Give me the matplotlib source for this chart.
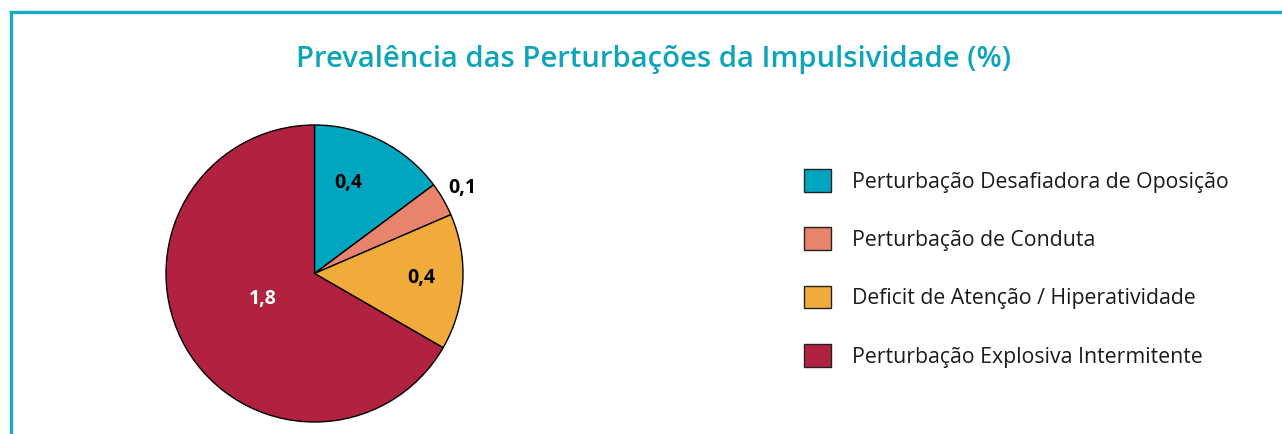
import numpy as np
import matplotlib
matplotlib.use('Agg')
import matplotlib.pyplot as plt
from matplotlib.patches import Patch
from matplotlib.lines import Line2D

categories = ['Perturbação Desafiadora de Oposição',
              'Perturbação de Conduta',
              'Deficit de Atenção / Hiperatividade',
              'Perturbação Explosiva Intermitente']
values = [0.4, 0.1, 0.4, 1.8]
valueLabels = ['0,4', '0,1', '0,4', '1,8']
title = 'Prevalência das Perturbações da Impulsividade (%)'

colors = ['#00a6bf', '#e8836c', '#f0ab3a', '#b0223f']
labelColors = ['black', 'black', 'black', 'white']
# radial position of each value label (fraction of radius), angle offset in degrees
labelRadius = [0.65, 1.15, 0.72, 0.39]
labelAngleShift = [6, 0, 1, -4]

W, H = 1282, 434
plt.rcParams['font.family'] = ['Open Sans', 'DejaVu Sans']
fig = plt.figure(figsize=(W / 100, H / 100), dpi=100)

# frame (left and top only)
frameColor = '#14abc2'
fig.add_artist(Line2D([10.5 / W, 10.5 / W], [0, 1 - 11.5 / H], color=frameColor, lw=2.4,
                      transform=fig.transFigure, solid_capstyle='projecting'))
fig.add_artist(Line2D([10.5 / W, 1], [1 - 11.5 / H, 1 - 11.5 / H], color=frameColor, lw=2.4,
                      transform=fig.transFigure, solid_capstyle='projecting'))

fig.text(653 / W, 1 - 59 / H, title, ha='center', va='center', fontsize=21.1,
         color='#0ea4ba', fontweight='semibold')

cx, cy, r = 314.5, 273.5, 148.5
ax = fig.add_axes([(cx - r) / W, (H - cy - r) / H, 2 * r / W, 2 * r / H])
wedges, _ = ax.pie(values, colors=colors, startangle=90, counterclock=False, radius=1,
                   wedgeprops=dict(edgecolor='black', linewidth=1.0))
ax.set_xlim(-1, 1)
ax.set_ylim(-1, 1)
ax.set_aspect('equal')
ax.axis('off')

for w, lab, col, rf, sh in zip(wedges, valueLabels, labelColors, labelRadius, labelAngleShift):
    ang = np.deg2rad((w.theta1 + w.theta2) / 2 + sh)
    ax.text(rf * np.cos(ang), rf * np.sin(ang), lab, ha='center', va='center',
            fontsize=14, fontweight='bold', color=col)

handles = [Patch(facecolor=c, edgecolor='#222222', linewidth=1.0) for c in colors]
leg = fig.legend(handles, categories, loc='upper left', bbox_to_anchor=(804 / W, 1 - 169 / H),
                 frameon=False, fontsize=15.3, handlelength=1.27, handleheight=1.27,
                 handletextpad=1.0, labelspacing=1.64, borderpad=0, borderaxespad=0)
for t in leg.get_texts():
    t.set_color('#1a1a1a')

fig.savefig('out.png', dpi=100)
